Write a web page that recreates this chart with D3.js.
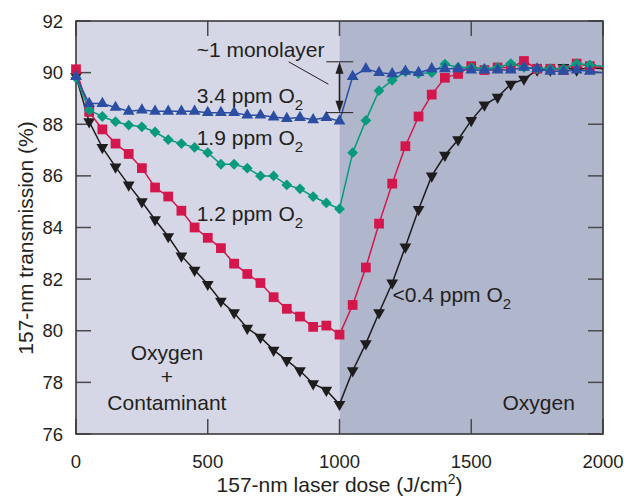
<html>
<head>
<script src="https://d3js.org/d3.v7.min.js"></script>
<style>
  body { margin: 0; background: white; }
  text { font-family: "Liberation Sans", Arial, sans-serif; fill: #231f20; }
</style>
</head>
<body>
<svg id="chart" width="624" height="497"></svg>
<script>
  // laser dose (J/cm2) at each measurement
  const dose = [0, 50, 100, 150, 200, 250, 300, 350, 400, 450, 500, 550, 600, 650, 700, 750, 800, 850, 900, 950, 1000,
                1050, 1100, 1150, 1200, 1250, 1300, 1350, 1400, 1450, 1500, 1550, 1600, 1650, 1700, 1750, 1800, 1850, 1900, 1950, 2000]

  const below04 = [89.85, 88.1, 87.1, 86.35, 85.65, 85.0, 84.3, 83.65, 82.9, 82.35, 81.8, 81.15, 80.7, 80.1, 79.75, 79.25, 78.85, 78.45, 77.95, 77.7, 77.15,
                   78.45, 79.5, 80.7, 81.85, 83.25, 84.7, 86.0, 86.8, 87.4, 88.15, 88.75, 89.05, 89.55, 89.75, 90.1, 90.1, 90.2, 90.1, 90.2, 90.15]
  const ppm12 = [90.13, 88.48, 87.8, 87.25, 86.85, 86.3, 85.55, 85.2, 84.65, 84.0, 83.6, 83.2, 82.6, 82.2, 81.85, 81.3, 80.85, 80.55, 80.15, 80.2, 79.85,
                 81.0, 82.45, 84.15, 85.7, 87.15, 88.3, 89.15, 89.8, 89.95, 90.25, 90.1, 90.2, 90.2, 90.45, 90.15, 90.15, 90.1, 90.35, 90.25, 90.2]
  const ppm19 = [89.8, 88.55, 88.3, 88.1, 87.97, 87.9, 87.7, 87.4, 87.25, 87.1, 86.9, 86.45, 86.45, 86.3, 86.0, 86.0, 85.65, 85.5, 85.2, 84.95, 84.72,
                 86.9, 88.15, 89.3, 89.7, 90.03, 89.97, 90.0, 90.33, 90.2, 90.2, 90.15, 90.2, 90.35, 90.2, 90.15, 90.15, 90.15, 90.35, 90.3, 90.25]
  const ppm34 = [89.85, 88.8, 88.8, 88.65, 88.5, 88.55, 88.5, 88.5, 88.5, 88.5, 88.45, 88.45, 88.45, 88.35, 88.35, 88.28, 88.22, 88.26, 88.17, 88.26, 88.12,
                 89.85, 90.15, 90.0, 89.95, 90.05, 90.0, 90.15, 90.15, 90.15, 90.1, 90.1, 90.1, 90.1, 90.2, 90.15, 90.05, 90.05, 90.1, 90.05, 90.0]

  const xTicks = [0, 500, 1000, 1500, 2000]
  const yTicks = [76, 78, 80, 82, 84, 86, 88, 90, 92]

  const svg = d3.select("svg#chart")
  const width = +svg.attr("width")
  const height = +svg.attr("height")
  const margin = {top: 21, right: 21, bottom: 63, left: 76}

  const x = d3.scaleLinear().domain([0, 2000]).range([margin.left, width - margin.right])
  const y = d3.scaleLinear().domain([76, 92]).range([height - margin.bottom, margin.top])

  // two shaded regions
  svg.append("rect").attr("x", x(0)).attr("y", y(92)).attr("width", x(1000) - x(0)).attr("height", y(76) - y(92)).attr("fill", "#d5d7e6")
  svg.append("rect").attr("x", x(1000)).attr("y", y(92)).attr("width", x(2000) - x(1000)).attr("height", y(76) - y(92)).attr("fill", "#b0b6cc")

  const tickLen = 15
  const tickCol = "#4a4a4a"
  // ticks point inward on all four sides
  svg.selectAll("line.yl").data(yTicks).join("line")
    .attr("x1", x(0)).attr("x2", x(0) + tickLen).attr("y1", d => y(d)).attr("y2", d => y(d))
    .attr("stroke", tickCol).attr("stroke-width", 1.5)
  svg.selectAll("line.yr").data(yTicks).join("line")
    .attr("x1", x(2000) - tickLen).attr("x2", x(2000)).attr("y1", d => y(d)).attr("y2", d => y(d))
    .attr("stroke", tickCol).attr("stroke-width", 1.5)
  svg.selectAll("line.xb").data(xTicks).join("line")
    .attr("x1", d => x(d)).attr("x2", d => x(d)).attr("y1", y(76)).attr("y2", y(76) - tickLen)
    .attr("stroke", tickCol).attr("stroke-width", 1.5)
  svg.selectAll("line.xt").data(xTicks).join("line")
    .attr("x1", d => x(d)).attr("x2", d => x(d)).attr("y1", y(92)).attr("y2", y(92) + tickLen)
    .attr("stroke", tickCol).attr("stroke-width", 1.5)

  svg.append("rect").attr("x", x(0)).attr("y", y(92)).attr("width", x(2000) - x(0)).attr("height", y(76) - y(92))
    .attr("fill", "none").attr("stroke", "#3a3a3a").attr("stroke-width", 1.6)

  // tick labels
  svg.selectAll("text.yt").data(yTicks).join("text")
    .attr("x", x(0) - 13).attr("y", d => y(d) + 6.5).attr("text-anchor", "end").attr("font-size", 18.5).text(d => d)
  svg.selectAll("text.xt").data(xTicks).join("text")
    .attr("x", d => x(d)).attr("y", y(76) + 34).attr("text-anchor", "middle").attr("font-size", 18.5).text(d => d)

  const fs = 21
  // axis titles
  const xt = svg.append("text").attr("x", x(1000)).attr("y", height - 5).attr("text-anchor", "middle").attr("font-size", fs)
  xt.append("tspan").text("157-nm laser dose (J/cm")
  xt.append("tspan").attr("dy", -8).attr("font-size", 14).text("2")
  xt.append("tspan").attr("dy", 8).text(")")
  svg.append("text").attr("transform", `translate(33,238) rotate(-90)`).attr("text-anchor", "middle").attr("font-size", fs)
    .text("157-nm transmission (%)")

  // series
  const series = [
    {name: "<0.4", values: below04, color: "#1e1c1d", shape: "down"},
    {name: "1.2", values: ppm12, color: "#d3164b", shape: "square"},
    {name: "1.9", values: ppm19, color: "#079a7c", shape: "diamond"},
    {name: "3.4", values: ppm34, color: "#2b4ea3", shape: "up"}
  ]
  const line = d3.line().x((d, i) => x(dose[i])).y(d => y(d))
  const tri = d3.symbol().type(d3.symbolTriangle).size(60)
  const sq = d3.symbol().type(d3.symbolSquare).size(95)
  const dia = d3.symbol().type(d3.symbolSquare).size(58)

  series.forEach(s => {
    const g = svg.append("g")
    g.append("path").attr("d", line(s.values)).attr("fill", "none").attr("stroke", s.color).attr("stroke-width", 1.5)
    const pts = s.values.map((v, i) => ({dx: dose[i], v: v})).filter(p => p.dx < 2000)
    g.selectAll("path.m").data(pts).join("path")
      .attr("d", s.shape === "square" ? sq() : s.shape === "diamond" ? dia() : tri())
      .attr("transform", d => {
        let r = s.shape === "down" ? 180 : s.shape === "diamond" ? 45 : 0
        return `translate(${x(d.dx)},${y(d.v)}) rotate(${r})`
      })
      .attr("fill", s.color)
  })

  // series labels
  function label(txt, xv, yv) {
    const t = svg.append("text").attr("x", x(xv)).attr("y", y(yv)).attr("font-size", fs)
    t.append("tspan").text(txt)
    t.append("tspan").attr("dy", 7).attr("font-size", 15).text("2")
  }
  label("3.4 ppm O", 458, 88.83)
  label("1.9 ppm O", 458, 87.19)
  label("1.2 ppm O", 458, 84.26)
  label("<0.4 ppm O", 1201, 81.12)

  svg.append("text").attr("x", x(345)).attr("y", y(78.86)).attr("text-anchor", "middle").attr("font-size", fs).text("Oxygen")
  svg.append("text").attr("x", x(345)).attr("y", y(77.93)).attr("text-anchor", "middle").attr("font-size", fs).text("+")
  svg.append("text").attr("x", x(345)).attr("y", y(76.92)).attr("text-anchor", "middle").attr("font-size", fs).text("Contaminant")
  svg.append("text").attr("x", x(1756)).attr("y", y(76.92)).attr("text-anchor", "middle").attr("font-size", fs).text("Oxygen")

  // monolayer annotation
  svg.append("text").attr("x", x(458)).attr("y", y(90.6)).attr("font-size", fs).text("~1 monolayer")
  svg.append("line").attr("x1", x(807)).attr("y1", y(90.42)).attr("x2", x(958)).attr("y2", y(89.55))
    .attr("stroke", "#231f20").attr("stroke-width", 1)
  ;[90.42, 88.45].forEach(v => {
    svg.append("line").attr("x1", x(950)).attr("x2", x(1052)).attr("y1", y(v)).attr("y2", y(v))
      .attr("stroke", "#231f20").attr("stroke-width", 1)
  })
  svg.append("line").attr("x1", x(1000)).attr("x2", x(1000)).attr("y1", y(90.42) + 8).attr("y2", y(88.45) - 8)
    .attr("stroke", "#231f20").attr("stroke-width", 1.6)
  const ax = x(1000)
  svg.append("path").attr("d", `M${ax},${y(90.42)} l-4,12 l8,0 z`).attr("fill", "#231f20")
  svg.append("path").attr("d", `M${ax},${y(88.45)} l-4,-12 l8,0 z`).attr("fill", "#231f20")
</script>
</body>
</html>
